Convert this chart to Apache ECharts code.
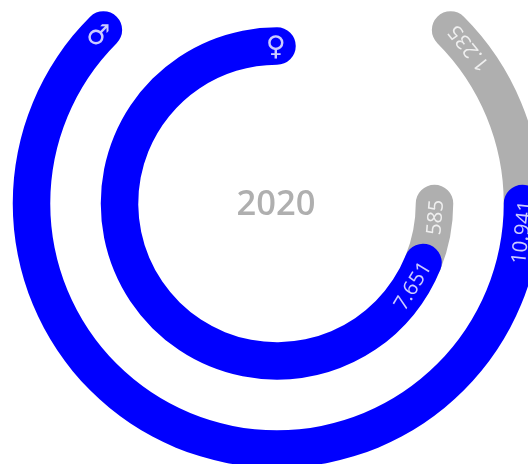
<!DOCTYPE html>
<html><head><meta charset="utf-8">
<style>html,body{margin:0;padding:0;background:#fff;overflow:hidden}#c{width:528px;height:464px}</style>
<script src="https://cdn.jsdelivr.net/npm/echarts@6/dist/echarts.min.js"></script>
</head><body><div id="c"></div>
<script>
var categories = ['♀', '♂'];
var centerLabel = '2020';
// arc extents in degrees (counter-clockwise from 12 o'clock)
var startOffset = [0, 45];
var blueSpan = [248, 225];
var graySpan = [22, 45];
// printed numbers
var blueLabels = ['7.651', '10.941'];
var grayLabels = ['585', '1.235'];
// where the printed texts sit, degrees along the ring
var blueLabelAngle = [238.7, 263.3];
var grayLabelAngle = [265, 309];
var symbolAngle = [0, 46];
var symbolShift = [[-1, 2], [-2, 4.5]];
var valueShift = [0, 2];
var BLUE = '#0000ff', GRAY = '#afafaf';
var FONT = '"Open Sans", sans-serif';

function labelSeries(items) {
  return {
    type: 'scatter', coordinateSystem: 'polar', symbolSize: 1, z: 10, silent: true,
    itemStyle: {color: 'transparent'},
    data: items.map(function (d) {
      return {
        value: [d.cat, d.angle],
        label: {show: true, position: 'inside', formatter: d.text, color: '#fff', offset: d.shift,
          fontFamily: d.font, fontSize: d.size, rotate: d.rot, align: 'center', verticalAlign: 'middle'}
      };
    })
  };
}
var items = [];
categories.forEach(function (c, i) {
  items.push({cat: c, angle: blueLabelAngle[i], text: blueLabels[i], size: 20.5, rot: blueLabelAngle[i] - 180, font: FONT, shift: valueShift});
  items.push({cat: c, angle: grayLabelAngle[i], text: grayLabels[i], size: 20.5, rot: grayLabelAngle[i] - 180, font: FONT, shift: valueShift});
  items.push({cat: c, angle: symbolAngle[i], text: c, size: 27, rot: 0, font: '"DejaVu Sans", sans-serif', shift: symbolShift[i]});
});

var chart = echarts.init(document.getElementById('c'), null, {renderer: 'canvas'});
function bar(name, data, color, z) {
  return {type: 'bar', name: name, coordinateSystem: 'polar', stack: 'ring', data: data, roundCap: true,
    barWidth: 37.5, z: z, silent: true, itemStyle: {color: color}};
}
chart.setOption({
  animation: false,
  backgroundColor: '#fff',
  graphic: [{type: 'text', x: 276, y: 205, silent: true,
    style: {text: centerLabel, align: 'center', verticalAlign: 'middle', fill: GRAY,
      fontFamily: FONT, fontSize: 34.5, fontWeight: 600}}],
  polar: {center: [277, 203.5], radius: [113.5, 289.5]},
  angleAxis: {type: 'value', min: 0, max: 360, startAngle: 90, clockwise: false, show: false},
  radiusAxis: {type: 'category', data: categories, show: false},
  series: [
    bar('offset', startOffset, 'transparent', 1),
    bar('total', blueSpan, BLUE, 3),
    bar('rest', graySpan, GRAY, 2),
    labelSeries(items)
  ]
});
</script></body></html>
